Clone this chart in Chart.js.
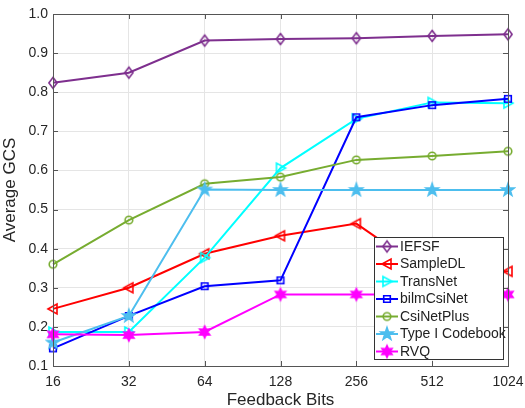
<!DOCTYPE html>
<html><head><meta charset="utf-8">
<script src="https://cdn.jsdelivr.net/npm/chart.js@4/dist/chart.umd.min.js"></script>
<style>html,body{margin:0;padding:0;background:#fff}#wrap{width:525px;height:408px}</style>
</head><body><div id="wrap"><canvas id="c" width="525" height="408"></canvas></div>
<script>
const categories = ['16','32','64','128','256','512','1024'];
const yTicks = [0.1,0.2,0.3,0.4,0.5,0.6,0.7,0.8,0.9,1.0];
const seriesNames = ['IEFSF','SampleDL','TransNet','bilmCsiNet','CsiNetPlus','Type I Codebook','RVQ'];
const iefsf      = [0.824, 0.850, 0.932, 0.936, 0.938, 0.944, 0.948];
const sampleDL   = [0.246, 0.300, 0.387, 0.433, 0.464, 0.330, 0.342];
const transNet   = [0.187, 0.187, 0.377, 0.606, 0.732, 0.774, 0.772];
const bilmCsiNet = [0.145, 0.228, 0.304, 0.319, 0.736, 0.767, 0.783];
const csiNetPlus = [0.360, 0.473, 0.566, 0.583, 0.627, 0.637, 0.649];
const typeI      = [0.160, 0.228, 0.551, 0.550, 0.550, 0.550, 0.550];
const rvq        = [0.181, 0.179, 0.187, 0.283, 0.283, 0.283, 0.283];

const colors = ['#7E2F8E','#FF0000','#00FFFF','#0000FF','#77AC30','#4DBEEE','#FF00FF'];
const shapes = ['diamond','triLeft','triRight','square','circle','pentagram','hexagram'];

function makeMarker(shape, color){
  const S = 18, c = document.createElement('canvas');
  c.width = S; c.height = S;
  const g = c.getContext('2d');
  const m = S/2;
  g.strokeStyle = color; g.fillStyle = color; g.lineWidth = 1.6;
  g.beginPath();
  if (shape==='diamond'){ const r=5.5; g.moveTo(m,m-r); g.lineTo(m+r*0.75,m); g.lineTo(m,m+r); g.lineTo(m-r*0.75,m); g.closePath(); g.stroke(); }
  else if (shape==='triLeft'){ const r=5; g.moveTo(m-r,m); g.lineTo(m+r*0.8,m-r); g.lineTo(m+r*0.8,m+r); g.closePath(); g.stroke(); }
  else if (shape==='triRight'){ const r=5; g.moveTo(m+r,m); g.lineTo(m-r*0.8,m-r); g.lineTo(m-r*0.8,m+r); g.closePath(); g.stroke(); }
  else if (shape==='square'){ const r=3.3; g.rect(m-r,m-r,2*r,2*r); g.stroke(); }
  else if (shape==='circle'){ g.arc(m,m,3.8,0,Math.PI*2); g.stroke(); }
  else if (shape==='pentagram' || shape==='hexagram'){
    const n = shape==='pentagram'?5:6, R = shape==='pentagram'?6.5:5.8, r = shape==='pentagram'?2.6:3.0;
    for(let i=0;i<2*n;i++){ const a=-Math.PI/2+i*Math.PI/n; const rr=i%2?r:R; const x=m+rr*Math.cos(a), y=m+rr*Math.sin(a); if(i===0) g.moveTo(x,y); else g.lineTo(x,y); }
    g.closePath(); g.fill(); g.stroke();
  }
  return c;
}
const markers = shapes.map((s,i)=>makeMarker(s,colors[i]));
const allData = [iefsf,sampleDL,transNet,bilmCsiNet,csiNetPlus,typeI,rvq];

const boxPlugin = {
  id:'box',
  afterDatasetsDraw(chart){
    const {ctx, chartArea:a, scales} = chart;
    ctx.save();
    ctx.strokeStyle = '#555'; ctx.lineWidth = 1;
    ctx.strokeRect(Math.round(a.left)+0.5, Math.round(a.top)+0.5, Math.round(a.right-a.left), Math.round(a.bottom-a.top));
    ctx.beginPath();
    const ys = scales.y, xs = scales.x;
    yTicks.forEach(v=>{ const y = Math.round(ys.getPixelForValue(v))+0.5; ctx.moveTo(a.left,y); ctx.lineTo(a.left+5,y); ctx.moveTo(a.right,y); ctx.lineTo(a.right-5,y); });
    categories.forEach((c,i)=>{ const x = Math.round(xs.getPixelForValue(i))+0.5; ctx.moveTo(x,a.bottom); ctx.lineTo(x,a.bottom-5); ctx.moveTo(x,a.top); ctx.lineTo(x,a.top+5); });
    ctx.stroke();
    // legend
    const lx = 374, ly = 237, lw = 129, lh = 122;
    ctx.fillStyle = '#fff'; ctx.fillRect(lx,ly,lw,lh);
    ctx.strokeStyle = '#333'; ctx.lineWidth = 1; ctx.strokeRect(lx+0.5,ly+0.5,lw,lh);
    ctx.font = '14px "Liberation Sans", Arial, sans-serif';
    ctx.textBaseline = 'middle'; ctx.textAlign = 'left';
    chart.data.datasets.forEach((ds,i)=>{
      const y = ly + 9.5 + i*17.5;
      ctx.strokeStyle = ds.borderColor; ctx.lineWidth = 2;
      ctx.beginPath(); ctx.moveTo(lx+2,y); ctx.lineTo(lx+24,y); ctx.stroke();
      ctx.drawImage(markers[i], lx+13-9, y-9);
      ctx.fillStyle = '#222';
      ctx.fillText(ds.label, lx+26, y+0.5);
    });
    ctx.restore();
  }
};

new Chart(document.getElementById('c'), {
  type:'line',
  data:{
    labels: categories,
    datasets: seriesNames.map((n,i)=>({
      label:n, data:allData[i], borderColor:colors[i], backgroundColor:colors[i],
      borderWidth:2, pointStyle:markers[i], pointRadius:6, fill:false, tension:0,
      order: 10-i
    }))
  },
  options:{
    responsive:false, animation:false,
    layout:{padding:{left:0,right:17,top:14,bottom:0}},
    plugins:{legend:{display:false}, tooltip:{enabled:false}},
    scales:{
      x:{
        type:'category', offset:false,
        grid:{color:'#e5e5e5', drawTicks:false},
        border:{display:false},
        ticks:{font:{size:14,family:'"Liberation Sans", Arial, sans-serif'}, color:'#262626', padding:8, maxRotation:0, autoSkip:false},
        title:{display:true, text:'Feedback Bits', font:{size:17,family:'"Liberation Sans", Arial, sans-serif'}, color:'#262626', padding:{top:2,bottom:-3}},
        afterFit(s){ s.height = 42; s.paddingRight = 0; s.paddingLeft = 0; }
      },
      y:{
        min:0.1, max:1.0,
        grid:{color:'#e5e5e5', drawTicks:false},
        border:{display:false},
        afterBuildTicks(s){ s.ticks = yTicks.map(v=>({value:v})); },
        ticks:{font:{size:14,family:'"Liberation Sans", Arial, sans-serif'}, color:'#262626', padding:5, callback:v=>v.toFixed(1)},
        title:{display:true, text:'Average GCS', font:{size:17,family:'"Liberation Sans", Arial, sans-serif'}, color:'#262626', padding:{top:0,bottom:4}},
        afterFit(s){ s.width = 53; s.paddingTop = 0; s.paddingBottom = 0; }
      }
    }
  },
  plugins:[boxPlugin]
});
</script></body></html>
